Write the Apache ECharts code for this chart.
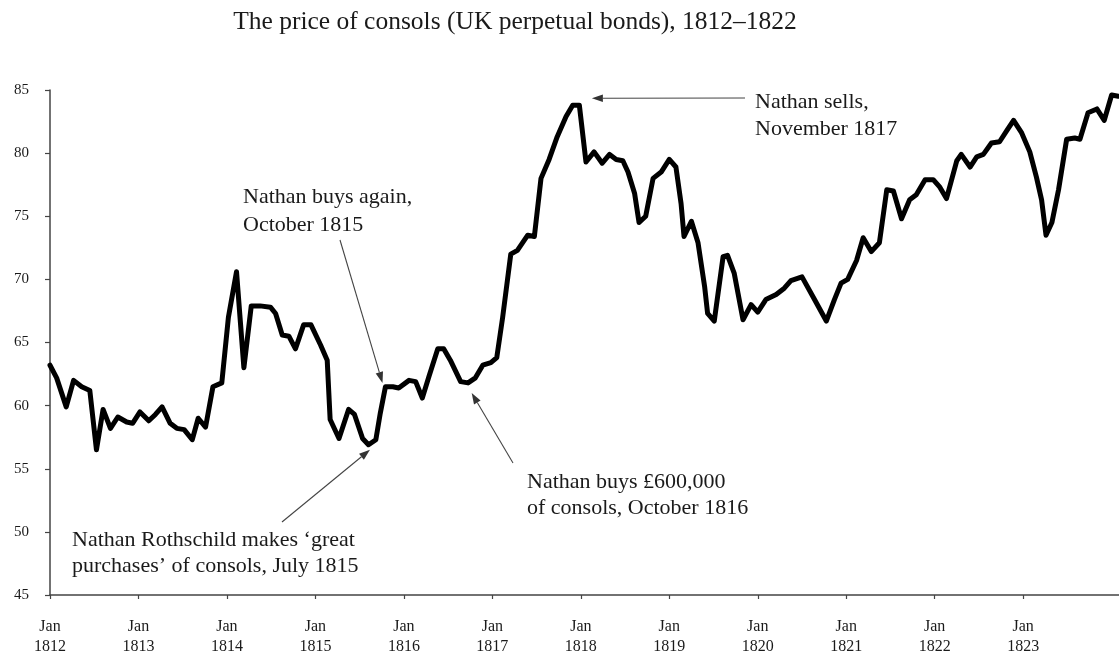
<!DOCTYPE html>
<html>
<head>
<meta charset="utf-8">
<title>The price of consols, 1812–1822</title>
<script src="https://cdn.jsdelivr.net/npm/echarts@6/dist/echarts.min.js"></script>
<style>
  html, body { margin: 0; padding: 0; background: #fff; }
  #chart { width: 1119px; height: 657px; }
</style>
</head>
<body>
<div id="chart"></div>
<script>
// Months counted from January 1812, with the consol price at each turning point
const months = [
  0, 0.9, 2.2, 3.2, 4.3, 5.4, 6.3, 7.2, 8.2, 9.2,
  10.4, 11.2, 12.2, 13.4, 14.3, 15.2, 16.3, 17.2, 18.2, 19.3,
  20.1, 21.1, 22.1, 23.3, 24.2, 25.3, 26.3, 27.3, 28.5, 29.9,
  30.6, 31.5, 32.4, 33.3, 34.4, 35.4, 36.7, 37.6, 38.0, 39.2,
  40.5, 41.3, 42.4, 43.2, 44.2, 44.8, 45.5, 46.5, 47.3, 48.7,
  49.6, 50.5, 51.4, 52.6, 53.4, 54.3, 55.7, 56.7, 57.7, 58.7,
  59.8, 60.6, 61.4, 62.5, 63.4, 64.8, 65.7, 66.6, 67.7, 68.8,
  70.0, 70.9, 71.8, 72.7, 73.8, 74.9, 75.9, 76.8, 77.7, 78.4,
  79.3, 79.9, 80.8, 81.8, 82.9, 84.0, 84.9, 85.6, 86.0, 87.0,
  87.9, 88.8, 89.2, 90.1, 91.3, 91.9, 92.8, 94.0, 95.1, 96.0,
  97.1, 98.5, 99.6, 100.5, 102.0, 103.7, 105.3, 106.4, 107.3, 108.2,
  109.4, 110.3, 111.4, 112.5, 113.5, 114.4, 115.5, 116.6, 117.5, 118.7,
  119.8, 120.7, 121.6, 123.0, 123.6, 124.8, 125.7, 126.6, 127.7, 128.8,
  129.8, 130.7, 131.8, 132.9, 133.8, 134.5, 135.1, 135.9, 136.8, 137.9,
  139.0, 139.7, 140.8, 142.0, 143.0, 144.0, 144.9
];
const prices = [
  63.2, 62.2, 59.9, 62.0, 61.5, 61.2, 56.5, 59.7, 58.2, 59.1,
  58.7, 58.6, 59.5, 58.8, 59.3, 59.9, 58.6, 58.2, 58.1, 57.3,
  59.0, 58.3, 61.5, 61.8, 67.0, 70.6, 63.0, 67.9, 67.9, 67.8,
  67.3, 65.6, 65.5, 64.5, 66.4, 66.4, 64.8, 63.6, 58.9, 57.4,
  59.7, 59.3, 57.4, 56.9, 57.3, 59.4, 61.5, 61.5, 61.4, 62.0,
  61.9, 60.6, 62.3, 64.5, 64.5, 63.6, 61.9, 61.8, 62.2, 63.2,
  63.4, 63.8, 67.0, 72.0, 72.3, 73.5, 73.4, 78.0, 79.5, 81.3,
  82.9, 83.8, 83.8, 79.3, 80.1, 79.2, 79.9, 79.5, 79.4, 78.5,
  76.8, 74.5, 75.0, 78.0, 78.5, 79.5, 78.9, 76.0, 73.4, 74.6,
  72.9, 69.4, 67.3, 66.7, 71.8, 71.9, 70.5, 66.8, 68.0, 67.4,
  68.4, 68.8, 69.3, 69.9, 70.2, 68.4, 66.7, 68.4, 69.7, 70.0,
  71.5, 73.3, 72.2, 72.9, 77.1, 77.0, 74.8, 76.3, 76.7, 77.9,
  77.9, 77.3, 76.4, 79.4, 79.9, 78.9, 79.7, 79.9, 80.8, 80.9,
  81.8, 82.6, 81.6, 80.1, 78.1, 76.3, 73.5, 74.5, 77.1, 81.1,
  81.2, 81.1, 83.2, 83.5, 82.6, 84.6, 84.5
];

// January tick positions (months from Jan 1812) and their year labels
const yearTicks = [0, 12, 24, 36, 48, 60, 72, 84, 96, 108, 120, 132];
const yearLabels = ['1812', '1813', '1814', '1815', '1816', '1817',
                    '1818', '1819', '1820', '1821', '1822', '1823'];

// Annotation texts and the point on the curve each arrow points to
const notes = [
  { lines: ['Nathan sells,', 'November 1817'], target: [73.5, 84.35] },
  { lines: ['Nathan buys again,', 'October 1815'], target: [45.1, 61.8] },
  { lines: ['Nathan buys £600,000', 'of consols, October 1816'], target: [57.2, 61.0] },
  { lines: ['Nathan Rothschild makes ‘great', 'purchases’ of consols, July 1815'], target: [43.4, 56.5] }
];

const FONT = '"Liberation Serif", "DejaVu Serif", serif';

const chart = echarts.init(document.getElementById('chart'), null, { renderer: 'canvas' });

const data = months.map((m, i) => [m, prices[i]]);

chart.setOption({
  animation: false,
  backgroundColor: '#ffffff',
  title: {
    text: 'The price of consols (UK perpetual bonds), 1812–1822',
    left: 510,
    textAlign: 'center',
    top: 4,
    textStyle: { fontFamily: FONT, fontSize: 25.5, fontWeight: 'normal', color: '#1a1a1a' }
  },
  grid: { left: 50, right: 0, top: 90, bottom: 62, containLabel: false },
  xAxis: {
    type: 'value',
    min: 0,
    max: 145,
    interval: 12,
    axisLine: { show: true, lineStyle: { color: '#444', width: 1.5 } },
    axisTick: { show: true, length: 4, customValues: yearTicks, lineStyle: { color: '#444', width: 1.2 } },
    axisLabel: {
      customValues: yearTicks,
      margin: 22,
      fontFamily: FONT,
      fontSize: 16,
      lineHeight: 20,
      color: '#1a1a1a',
      formatter: v => {
        const i = yearTicks.indexOf(v);
        return i >= 0 ? 'Jan\n' + yearLabels[i] : '';
      }
    },
    splitLine: { show: false }
  },
  yAxis: {
    type: 'value',
    min: 45,
    max: 85,
    interval: 5,
    axisLine: { show: true, lineStyle: { color: '#444', width: 1.5 } },
    axisTick: { show: true, length: 5, lineStyle: { color: '#444', width: 1.2 } },
    axisLabel: { fontFamily: FONT, fontSize: 15, color: '#1a1a1a', margin: 21 },
    splitLine: { show: false }
  },
  series: [{
    type: 'line',
    data: data,
    showSymbol: false,
    smooth: false,
    clip: false,
    lineStyle: { color: '#000', width: 5, join: 'round', cap: 'round' }
  }]
});

// Text blocks and arrow tails for the annotations
const layout = [
  { x: 755, y: 89, lh: 27, tail: [745, 98] },
  { x: 243, y: 183, lh: 28, tail: [340, 240] },
  { x: 527, y: 469, lh: 26, tail: [513, 463] },
  { x: 72, y: 527, lh: 26, tail: [282, 522] }
];

function arrow(tail, tip) {
  const dx = tip[0] - tail[0], dy = tip[1] - tail[1];
  const len = Math.hypot(dx, dy);
  const ux = dx / len, uy = dy / len;
  const hl = 11, hw = 3.8;
  const bx = tip[0] - ux * hl, by = tip[1] - uy * hl;
  return [
    {
      type: 'line',
      shape: { x1: tail[0], y1: tail[1], x2: bx, y2: by },
      style: { stroke: '#444', lineWidth: 1.1 },
      silent: true
    },
    {
      type: 'polygon',
      shape: { points: [tip, [bx - uy * hw, by + ux * hw], [bx + uy * hw, by - ux * hw]] },
      style: { fill: '#333' },
      silent: true
    }
  ];
}

const graphics = [];
notes.forEach((n, i) => {
  const L = layout[i];
  graphics.push({
    type: 'text',
    left: L.x,
    top: L.y,
    style: {
      text: n.lines.join('\n'),
      font: '22px ' + FONT,
      lineHeight: L.lh,
      fill: '#1a1a1a'
    },
    silent: true
  });
  const tip = chart.convertToPixel({ seriesIndex: 0 }, n.target);
  graphics.push(...arrow(L.tail, tip));
});

chart.setOption({ graphic: graphics });
</script>
</body>
</html>
